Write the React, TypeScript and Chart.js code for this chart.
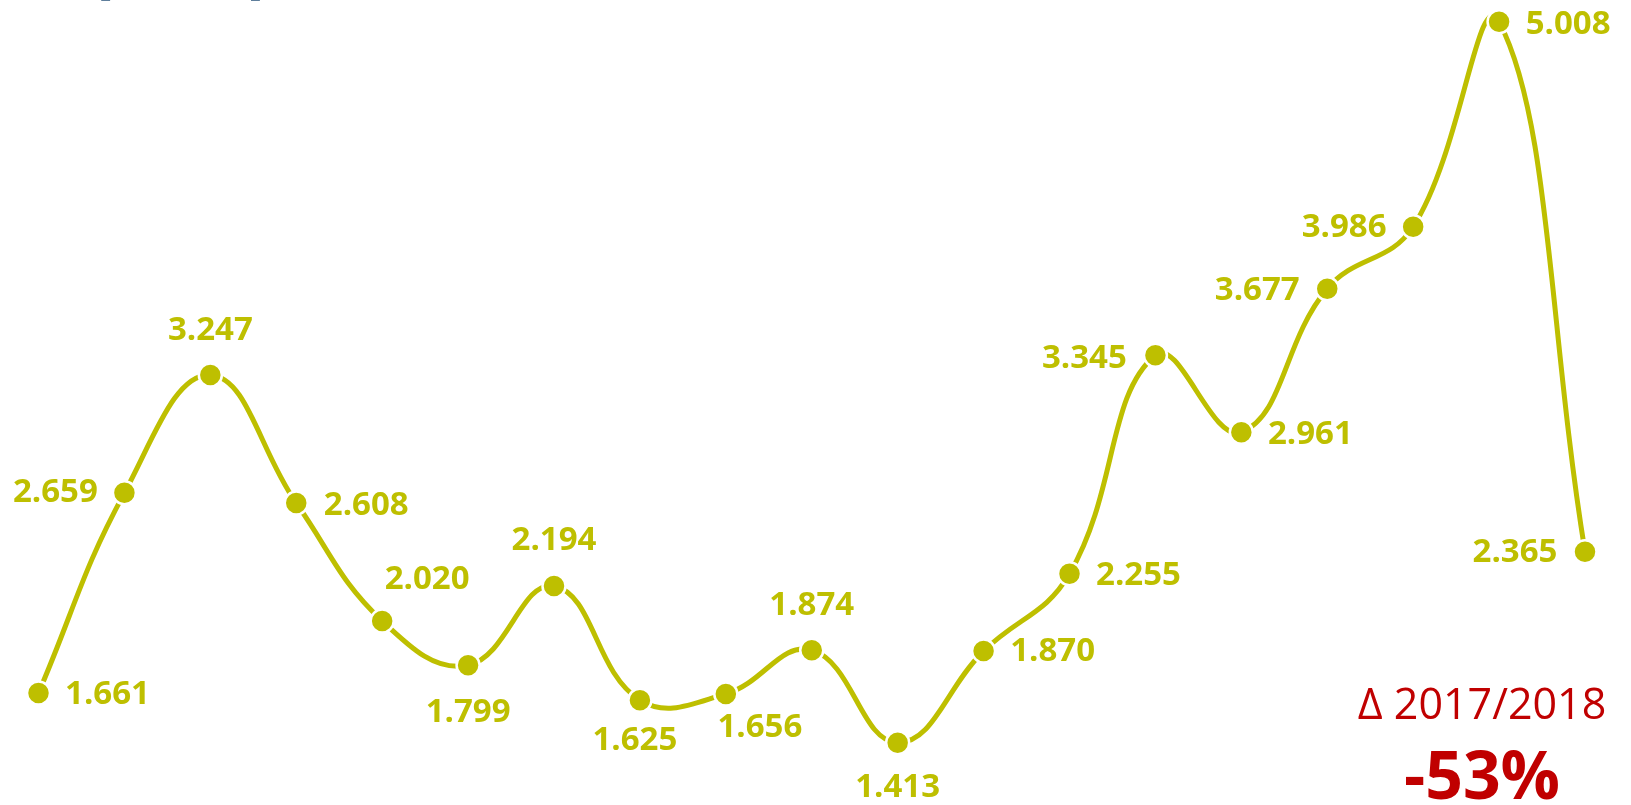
import React, { useEffect, useRef } from "react";
import { Chart, registerables } from "chart.js";

Chart.register(...registerables);

const categories: string[] = [
  "P1", "P2", "P3", "P4", "P5", "P6", "P7", "P8", "P9", "P10",
  "P11", "P12", "P13", "P14", "P15", "P16", "P17", "P18", "P19",
];
const values: number[] = [
  1.661, 2.659, 3.247, 2.608, 2.02, 1.799, 2.194, 1.625, 1.656, 1.874,
  1.413, 1.87, 2.255, 3.345, 2.961, 3.677, 3.986, 5.008, 2.365,
];
const labelTexts: string[] = [
  "1.661", "2.659", "3.247", "2.608", "2.020", "1.799", "2.194", "1.625", "1.656", "1.874",
  "1.413", "1.870", "2.255", "3.345", "2.961", "3.677", "3.986", "5.008", "2.365",
];
// label offsets relative to the point (pixels)
const labelOffsets: [number, number][] = [
  [69, 2], [-69, 0], [0, -44], [70, 3], [45, -41], [0, 47], [0, -45], [-5, 40], [34, 34], [0, -45],
  [0, 45], [69, 1], [69, 2], [-71, 3], [69, 2], [-70, 2], [-69, 1], [69, 3], [-70, 1],
];
const deltaLabel = "Δ 2017/2018";
const deltaValue = "-53%";

const LINE_COLOR = "#BEBF00";
const RED = "#C00000";

const labelPlugin = {
  id: "pointLabels",
  afterDatasetsDraw(chart: any) {
    const ctx = chart.ctx;
    const meta = chart.getDatasetMeta(0);
    ctx.save();
    ctx.font = "bold 33px 'Open Sans'";
    ctx.fillStyle = LINE_COLOR;
    ctx.textAlign = "center";
    ctx.textBaseline = "middle";
    meta.data.forEach((pt: any, i: number) => {
      const [dx, dy] = labelOffsets[i];
      ctx.fillText(labelTexts[i], pt.x + dx, pt.y + dy);
    });
    ctx.restore();
  },
};

export default function App() {
  const ref = useRef<HTMLCanvasElement | null>(null);
  useEffect(() => {
    if (!ref.current) return;
    const chart = new Chart(ref.current, {
      type: "line",
      data: {
        labels: categories,
        datasets: [
          {
            data: values,
            borderColor: LINE_COLOR,
            borderWidth: 5,
            tension: 0.42,
            capBezierPoints: false,
            pointRadius: 11.5,
            pointBorderWidth: 2.5,
            pointBackgroundColor: LINE_COLOR,
            pointBorderColor: "#ffffff",
            clip: false as any,
          } as any,
        ],
      },
      options: {
        animation: false,
        responsive: false,
        devicePixelRatio: 1,
        elements: { line: { capBezierPoints: false } },
        layout: { autoPadding: false, padding: { left: 38.5, right: 46, top: 0, bottom: 0 } },
        plugins: { legend: { display: false }, tooltip: { enabled: false }, title: { display: false } },
        scales: {
          x: { type: "category", display: false, offset: false },
          y: { type: "linear", display: false, min: 1.102, max: 5.117 },
        },
      },
      plugins: [labelPlugin],
    });
    return () => chart.destroy();
  }, []);

  return (
    <div style={{ position: "fixed", left: 0, top: 0, width: 1631, height: 805, background: "#fff", overflow: "hidden" }}>
      <canvas ref={ref} width={1631} height={805} style={{ position: "absolute", left: 0, top: 0 }} />
      <div style={{ position: "absolute", left: 98, top: -40, fontFamily: "'Open Sans'", fontSize: 40, color: "#5F7F9C", lineHeight: "40px" }}>[</div>
      <div style={{ position: "absolute", left: 250, top: -40, fontFamily: "'Open Sans'", fontSize: 40, color: "#5F7F9C", lineHeight: "40px" }}>]</div>
      <div style={{ position: "absolute", left: 1282, width: 400, top: 679, textAlign: "center", fontFamily: "'Open Sans'", fontSize: 43, color: RED, lineHeight: "48px" }}>{deltaLabel}</div>
      <div style={{ position: "absolute", left: 1282, width: 400, top: 735, textAlign: "center", fontFamily: "'Open Sans'", fontWeight: 700, fontSize: 66, color: RED, lineHeight: "76px" }}>{deltaValue}</div>
    </div>
  );
}
